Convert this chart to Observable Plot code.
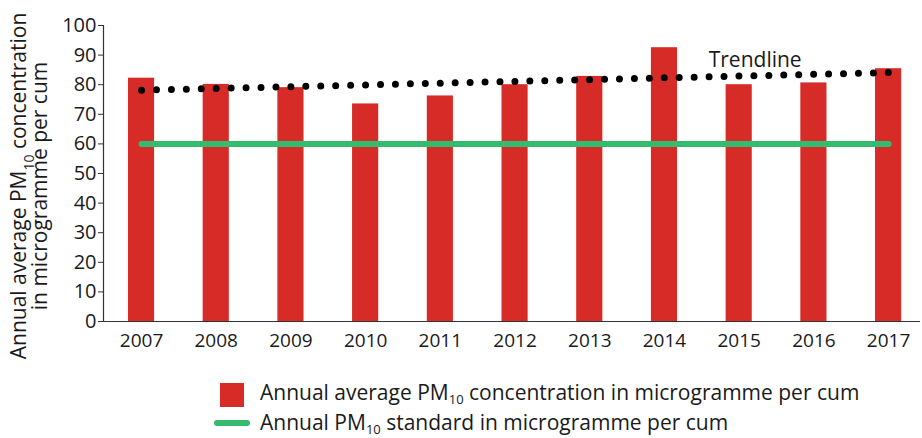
<!DOCTYPE html>
<html>
<head>
<meta charset="utf-8">
<script src="https://cdn.jsdelivr.net/npm/d3@7"></script>
<script src="https://cdn.jsdelivr.net/npm/@observablehq/plot@0.6"></script>
<style>
  body { margin: 0; background: #fff; }
  #wrap { position: relative; width: 922px; height: 438px; font-family: "Open Sans", "Noto Sans", sans-serif; color: #1a1a1a; }
  #chart { position: absolute; left: 0; top: 0; }
  .sw-bar { position: absolute; left: 220px; top: 383px; width: 24px; height: 24px; background: #d62b27; }
  .sw-line { position: absolute; left: 214px; top: 420px; width: 36px; height: 6px; border-radius: 3px; background: #35bb6e; }
  .lt { position: absolute; left: 260px; font-size: 21px; line-height: 24px; white-space: nowrap; }
  .lt sub { font-size: 13px; line-height: 0; vertical-align: -3.5px; }
</style>
</head>
<body>
<div id="wrap">
  <div id="chart"></div>
  <div class="sw-bar"></div>
  <div class="lt" style="top:380px">Annual average PM<sub>10</sub> concentration in microgramme per cum</div>
  <div class="sw-line"></div>
  <div class="lt" style="top:410px">Annual PM<sub>10</sub> standard in microgramme per cum</div>
</div>
<script>
// ---- data ----
const years = ["2007","2008","2009","2010","2011","2012","2013","2014","2015","2016","2017"];
const pm10 = [82.2, 80.1, 79.0, 73.5, 76.2, 80.0, 82.8, 92.5, 80.0, 80.6, 85.4];
const standardValue = 60;
const yTicks = [0,10,20,30,40,50,60,70,80,90,100];
const trendLabel = "Trendline";

// least-squares trendline computed from the data
const idx = d3.range(years.length);
const mx = d3.mean(idx), my = d3.mean(pm10);
const slope = d3.sum(idx, i => (i - mx) * (pm10[i] - my)) / d3.sum(idx, i => (i - mx) ** 2);
const data = years.map((year, i) => ({
  year, value: pm10[i], standard: standardValue, trend: my + slope * (i - mx)
}));

const chart = Plot.plot({
  width: 922,
  height: 362,
  marginLeft: 103,
  marginRight: 2,
  marginTop: 25,
  marginBottom: 41,
  style: { fontFamily: '"Open Sans", "Noto Sans", sans-serif', color: "#1a1a1a", background: "transparent" },
  x: { domain: years, paddingInner: 0.65, paddingOuter: 0.293, align: 0.57, round: false, label: null },
  y: { domain: [0, 100], ticks: yTicks, label: null },
  marks: [
    Plot.barY(data, { x: "year", y: "value", fill: "#d62b27" }),
    Plot.line(data, { x: "year", y: "standard", stroke: "#35bb6e", strokeWidth: 6, strokeLinecap: "round" }),
    Plot.line(data, { x: "year", y: "trend", stroke: "#000", strokeWidth: 7, strokeDasharray: "0 14.94", strokeLinecap: "round" }),
    Plot.text(data.filter(d => d.year === "2015"), { x: "year", y: "trend", text: () => trendLabel, lineAnchor: "bottom", dx: 16, dy: -9, fontSize: 21, fill: "#1a1a1a" }),
    Plot.ruleY([0], { stroke: "#333", strokeWidth: 1.2 }),
    Plot.axisY({ ticks: yTicks, tickSize: 5, tickPadding: 2, fontSize: 20, stroke: "#333", label: null }),
    Plot.axisX({ tickSize: 0, tickPadding: 12, fontSize: 19, label: null })
  ]
});
document.getElementById("chart").appendChild(chart);

// y-axis domain line and two-line rotated axis title
const svg = d3.select(chart);
svg.append("line")
  .attr("x1", 103.5).attr("x2", 103.5).attr("y1", 25).attr("y2", 321)
  .attr("stroke", "#333").attr("stroke-width", 1.2);
const title = svg.append("g")
  .attr("font-family", '"Open Sans", "Noto Sans", sans-serif')
  .attr("font-size", 21).attr("fill", "#1a1a1a")
  .attr("text-anchor", "middle")
  .attr("transform", "rotate(-90)");
const t1 = title.append("text").attr("x", -186).attr("y", 26);
t1.append("tspan").text("Annual average PM");
t1.append("tspan").attr("font-size", 14).attr("dy", 8).text("10");
t1.append("tspan").attr("dy", -8).text(" concentration");
title.append("text").attr("x", -186).attr("y", 47).text("in microgramme per cum");
</script>
</body>
</html>
